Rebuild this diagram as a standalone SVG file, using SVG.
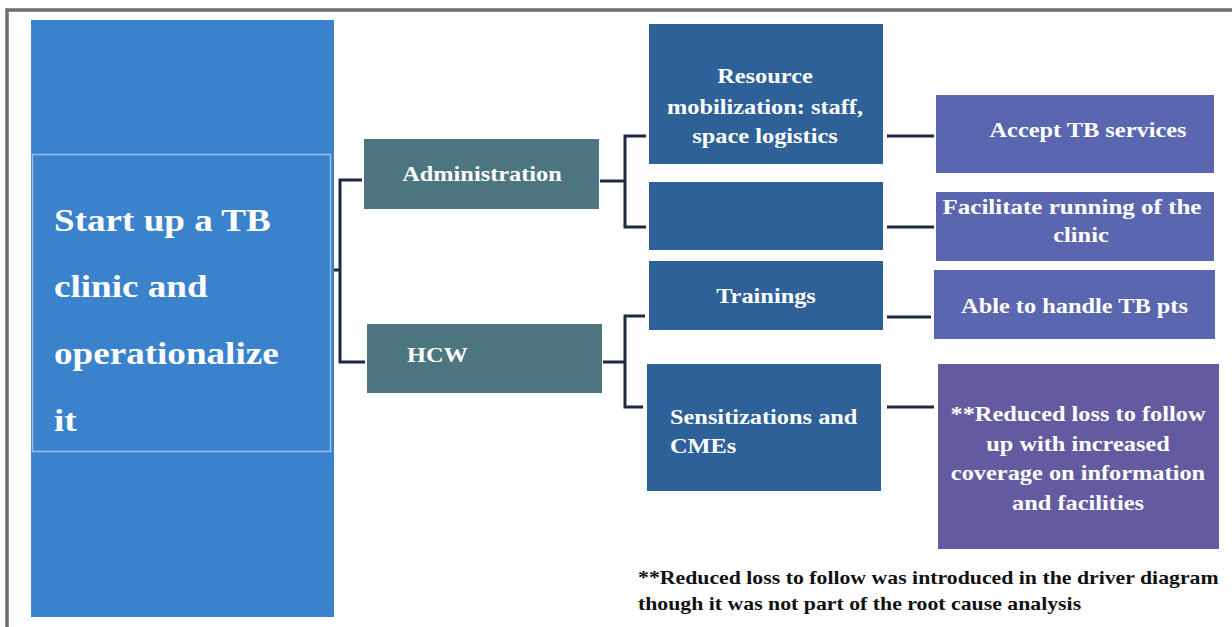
<svg xmlns="http://www.w3.org/2000/svg" width="1232" height="627" viewBox="0 0 1232 627">
<style>
.t{font-family:"Liberation Serif","Times New Roman",serif;font-weight:bold;fill:#ffffff}
.c{text-anchor:middle}
.s{text-anchor:start}
.f{font-size:21px}
.big{font-size:32px}
.note{font-family:"Liberation Serif","Times New Roman",serif;font-weight:bold;fill:#111111;font-size:18.5px}
.conn{fill:none;stroke:#1f2747;stroke-width:3}
.l2{fill:#4d7580}
.l3{fill:#2d6197}
.l4{fill:#5a67b0}
</style>
<rect width="1232" height="627" fill="#ffffff"/>
<path d="M7 627 V10 H1232" fill="none" stroke="#6e6e6e" stroke-width="3.5"/>
<g id="goal">
<rect x="31" y="20" width="303" height="597" fill="#3a82cc"/>
<rect x="32.5" y="154.5" width="298" height="297" fill="#3a82cc" stroke="#9cc0e6" stroke-width="1.5"/>
<text class="t s big" transform="translate(54 0) scale(1.16 1)" x="0" y="231">Start up a TB</text>
<text class="t s big" transform="translate(54 0) scale(1.16 1)" x="0" y="297">clinic and</text>
<text class="t s big" transform="translate(54 0) scale(1.16 1)" x="0" y="364">operationalize</text>
<text class="t s big" transform="translate(54 0) scale(1.16 1)" x="0" y="431">it</text>
</g>
<g id="connectors">
<path class="conn" d="M334 270 H340 M362 180 H340 V362 H365"/>
<path class="conn" d="M600 181 H625 M646 136 H625 V227 H646"/>
<path class="conn" d="M603 362 H625 M645 316 H625 V407 H643"/>
<path class="conn" d="M887 136 H934 M887 227 H934 M887 317 H931 M887 407 H934"/>
</g>
<g id="administration">
<rect class="l2" x="364" y="139" width="235" height="70"/>
<text class="t c f" transform="translate(482 0) scale(1.16 1)" x="0" y="181">Administration</text>
</g>
<g id="hcw">
<rect class="l2" x="367" y="324" width="235" height="69"/>
<text class="t s f" transform="translate(407 0) scale(1.16 1)" x="0" y="362">HCW</text>
</g>
<g id="resource">
<rect class="l3" x="649" y="24" width="234" height="140"/>
<text class="t c f" transform="translate(765 0) scale(1.16 1)" x="0" y="83">Resource</text>
<text class="t c f" transform="translate(765 0) scale(1.16 1)" x="0" y="114">mobilization: staff,</text>
<text class="t c f" transform="translate(765 0) scale(1.16 1)" x="0" y="143">space logistics</text>
</g>
<g id="empty">
<rect class="l3" x="649" y="182" width="234" height="68"/>
</g>
<g id="trainings">
<rect class="l3" x="649" y="261" width="234" height="69"/>
<text class="t c f" transform="translate(766 0) scale(1.16 1)" x="0" y="303">Trainings</text>
</g>
<g id="sensitizations">
<rect class="l3" x="647" y="364" width="234" height="127"/>
<text class="t s f" transform="translate(670 0) scale(1.16 1)" x="0" y="424">Sensitizations and</text>
<text class="t s f" transform="translate(670 0) scale(1.16 1)" x="0" y="453">CMEs</text>
</g>
<g id="accept">
<rect class="l4" x="936" y="95" width="278" height="78"/>
<text class="t c f" transform="translate(1088 0) scale(1.16 1)" x="0" y="137">Accept TB services</text>
</g>
<g id="facilitate">
<rect class="l4" x="936" y="192" width="278" height="69"/>
<text class="t c f" transform="translate(1072 0) scale(1.19 1)" x="0" y="214">Facilitate running of the</text>
<text class="t c f" transform="translate(1081 0) scale(1.16 1)" x="0" y="242">clinic</text>
</g>
<g id="able">
<rect class="l4" x="934" y="270" width="281" height="69"/>
<text class="t c f" transform="translate(1074.5 0) scale(1.16 1)" x="0" y="313">Able to handle TB pts</text>
</g>
<g id="reduced">
<rect x="938" y="364" width="281" height="185" fill="#635a9f"/>
<text class="t c f" transform="translate(1078 0) scale(1.16 1)" x="0" y="421">**Reduced loss to follow</text>
<text class="t c f" transform="translate(1078 0) scale(1.16 1)" x="0" y="451">up with increased</text>
<text class="t c f" transform="translate(1078 0) scale(1.16 1)" x="0" y="480">coverage on information</text>
<text class="t c f" transform="translate(1078 0) scale(1.16 1)" x="0" y="510">and facilities</text>
</g>
<g id="footnote">
<text class="note" transform="translate(638 0) scale(1.178 1)" x="0" y="584">**Reduced loss to follow was introduced in the driver diagram</text>
<text class="note" transform="translate(638 0) scale(1.178 1)" x="0" y="610">though it was not part of the root cause analysis</text>
</g>
</svg>
